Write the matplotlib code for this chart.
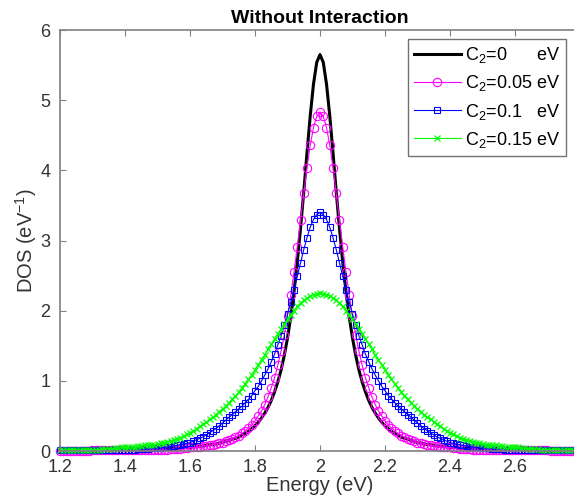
import numpy as np
import matplotlib
matplotlib.use("Agg")
import matplotlib.pyplot as plt
from matplotlib.ticker import FormatStrFormatter

# energy grid (eV), 0.01 eV step
energy = np.linspace(1.2, 2.8, 161)

# DOS values, 1.20 ... 2.80 eV
dos_c0 = [
    0.01, 0.01, 0.01, 0.01, 0.01, 0.01, 0.01, 0.01, 0.01, 0.01,
    0.01, 0.01, 0.01, 0.01, 0.01, 0.02, 0.02, 0.02, 0.02, 0.02,
    0.02, 0.02, 0.02, 0.02, 0.02, 0.02, 0.02, 0.02, 0.02, 0.03,
    0.03, 0.03, 0.03, 0.03, 0.04, 0.04, 0.04, 0.04, 0.05, 0.05,
    0.05, 0.06, 0.06, 0.07, 0.07, 0.08, 0.09, 0.09, 0.10, 0.11,
    0.12, 0.14, 0.15, 0.17, 0.18, 0.20, 0.23, 0.25, 0.28, 0.32,
    0.36, 0.41, 0.47, 0.54, 0.62, 0.72, 0.84, 0.98, 1.15, 1.36,
    1.61, 1.91, 2.27, 2.69, 3.17, 3.69, 4.25, 4.78, 5.23, 5.54,
    5.65,
    5.54, 5.23, 4.78, 4.25, 3.69, 3.17, 2.69, 2.27, 1.91, 1.61,
    1.36, 1.15, 0.98, 0.84, 0.72, 0.62, 0.54, 0.47, 0.41, 0.36,
    0.32, 0.28, 0.25, 0.23, 0.20, 0.18, 0.17, 0.15, 0.14, 0.12,
    0.11, 0.10, 0.09, 0.09, 0.08, 0.07, 0.07, 0.06, 0.06, 0.05,
    0.05, 0.05, 0.04, 0.04, 0.04, 0.04, 0.03, 0.03, 0.03, 0.03,
    0.03, 0.02, 0.02, 0.02, 0.02, 0.02, 0.02, 0.02, 0.02, 0.02,
    0.02, 0.02, 0.02, 0.02, 0.02, 0.01, 0.01, 0.01, 0.01, 0.01,
    0.01, 0.01, 0.01, 0.01, 0.01, 0.01, 0.01, 0.01, 0.01, 0.01,
]

dos_c005 = [
    0.00, 0.00, 0.00, 0.00, 0.00, 0.00, 0.00, 0.00, 0.00, 0.00,
    0.01, 0.01, 0.01, 0.01, 0.01, 0.01, 0.01, 0.01, 0.01, 0.01,
    0.01, 0.01, 0.01, 0.01, 0.01, 0.02, 0.02, 0.02, 0.02, 0.02,
    0.02, 0.02, 0.02, 0.02, 0.03, 0.03, 0.03, 0.03, 0.04, 0.04,
    0.05, 0.05, 0.05, 0.06, 0.07, 0.07, 0.08, 0.09, 0.10, 0.11,
    0.12, 0.14, 0.15, 0.17, 0.20, 0.22, 0.25, 0.29, 0.33, 0.37,
    0.43, 0.50, 0.57, 0.66, 0.77, 0.90, 1.04, 1.22, 1.42, 1.65,
    1.92, 2.22, 2.55, 2.91, 3.29, 3.67, 4.04, 4.36, 4.61, 4.77,
    4.83,
    4.77, 4.61, 4.36, 4.04, 3.67, 3.29, 2.91, 2.55, 2.22, 1.92,
    1.65, 1.42, 1.22, 1.04, 0.90, 0.77, 0.66, 0.57, 0.50, 0.43,
    0.37, 0.33, 0.29, 0.25, 0.22, 0.20, 0.17, 0.15, 0.14, 0.12,
    0.11, 0.10, 0.09, 0.08, 0.07, 0.07, 0.06, 0.05, 0.05, 0.05,
    0.04, 0.04, 0.03, 0.03, 0.03, 0.03, 0.02, 0.02, 0.02, 0.02,
    0.02, 0.02, 0.02, 0.02, 0.02, 0.01, 0.01, 0.01, 0.01, 0.01,
    0.01, 0.01, 0.01, 0.01, 0.01, 0.01, 0.01, 0.01, 0.01, 0.01,
    0.00, 0.00, 0.00, 0.00, 0.00, 0.00, 0.00, 0.00, 0.00, 0.00,
]

dos_c01 = [
    0.01, 0.01, 0.01, 0.01, 0.01, 0.01, 0.01, 0.01, 0.01, 0.01,
    0.01, 0.01, 0.01, 0.01, 0.01, 0.02, 0.02, 0.02, 0.02, 0.02,
    0.02, 0.02, 0.02, 0.02, 0.03, 0.03, 0.03, 0.03, 0.04, 0.04,
    0.04, 0.05, 0.05, 0.06, 0.06, 0.07, 0.08, 0.09, 0.10, 0.11,
    0.12, 0.14, 0.16, 0.18, 0.20, 0.23, 0.26, 0.29, 0.32, 0.36,
    0.40, 0.44, 0.48, 0.52, 0.56, 0.60, 0.64, 0.69, 0.74, 0.79,
    0.86, 0.92, 1.00, 1.08, 1.17, 1.27, 1.38, 1.51, 1.64, 1.79,
    1.95, 2.12, 2.30, 2.49, 2.68, 2.87, 3.04, 3.19, 3.30, 3.37,
    3.40,
    3.37, 3.30, 3.19, 3.04, 2.87, 2.68, 2.49, 2.30, 2.12, 1.95,
    1.79, 1.64, 1.51, 1.38, 1.27, 1.17, 1.08, 1.00, 0.92, 0.86,
    0.79, 0.74, 0.69, 0.64, 0.60, 0.56, 0.52, 0.48, 0.44, 0.40,
    0.36, 0.32, 0.29, 0.26, 0.23, 0.20, 0.18, 0.16, 0.14, 0.12,
    0.11, 0.10, 0.09, 0.08, 0.07, 0.06, 0.06, 0.05, 0.05, 0.04,
    0.04, 0.04, 0.03, 0.03, 0.03, 0.03, 0.02, 0.02, 0.02, 0.02,
    0.02, 0.02, 0.02, 0.02, 0.02, 0.01, 0.01, 0.01, 0.01, 0.01,
    0.01, 0.01, 0.01, 0.01, 0.01, 0.01, 0.01, 0.01, 0.01, 0.01,
]

dos_c015 = [
    0.01, 0.01, 0.01, 0.01, 0.01, 0.01, 0.01, 0.01, 0.02, 0.02,
    0.02, 0.02, 0.02, 0.03, 0.03, 0.03, 0.03, 0.04, 0.04, 0.05,
    0.05, 0.05, 0.06, 0.06, 0.07, 0.07, 0.08, 0.08, 0.09, 0.09,
    0.10, 0.11, 0.12, 0.13, 0.14, 0.16, 0.17, 0.19, 0.21, 0.24,
    0.26, 0.29, 0.32, 0.35, 0.38, 0.41, 0.45, 0.48, 0.52, 0.56,
    0.60, 0.64, 0.69, 0.74, 0.79, 0.84, 0.90, 0.96, 1.03, 1.09,
    1.16, 1.23, 1.30, 1.37, 1.45, 1.52, 1.60, 1.67, 1.74, 1.81,
    1.88, 1.94, 2.00, 2.06, 2.11, 2.15, 2.18, 2.21, 2.23, 2.24,
    2.25,
    2.24, 2.23, 2.21, 2.18, 2.15, 2.11, 2.06, 2.00, 1.94, 1.88,
    1.81, 1.74, 1.67, 1.60, 1.52, 1.45, 1.37, 1.30, 1.23, 1.16,
    1.09, 1.03, 0.96, 0.90, 0.84, 0.79, 0.74, 0.69, 0.64, 0.60,
    0.56, 0.52, 0.48, 0.45, 0.41, 0.38, 0.35, 0.32, 0.29, 0.26,
    0.24, 0.21, 0.19, 0.17, 0.16, 0.14, 0.13, 0.12, 0.11, 0.10,
    0.09, 0.09, 0.08, 0.08, 0.07, 0.07, 0.06, 0.06, 0.05, 0.05,
    0.05, 0.04, 0.04, 0.03, 0.03, 0.03, 0.03, 0.02, 0.02, 0.02,
    0.02, 0.02, 0.01, 0.01, 0.01, 0.01, 0.01, 0.01, 0.01, 0.01,
]

labels = ["C$_2$=0      eV", "C$_2$=0.05 eV", "C$_2$=0.1   eV", "C$_2$=0.15 eV"]
x_ticks = [1.2, 1.4, 1.6, 1.8, 2.0, 2.2, 2.4, 2.6]
y_ticks = [0, 1, 2, 3, 4, 5, 6]

plt.rcParams["font.family"] = "Liberation Sans"
plt.rcParams["mathtext.fontset"] = "custom"
plt.rcParams["mathtext.rm"] = "Liberation Sans"
plt.rcParams["mathtext.it"] = "Liberation Sans:italic"

fig = plt.figure(figsize=(5.74, 5.04), dpi=100)
# axes run past the right edge, like the cropped original
ax = fig.add_axes([60 / 574, 53 / 504, 520 / 574, 421 / 504])

ax.plot(energy, dos_c0, color="black", lw=2.2, label=labels[0], clip_on=False)
ax.plot(energy, dos_c005, color="magenta", lw=0.8, marker="o", ms=6,
        mfc="none", mew=0.8, label=labels[1], clip_on=False)
ax.plot(energy, dos_c01, color="blue", lw=0.8, marker="s", ms=4.5,
        mfc="none", mew=0.8, label=labels[2], clip_on=False)
ax.plot(energy, dos_c015, color="lime", lw=0.8, marker="x", ms=4.5,
        mew=0.9, label=labels[3], clip_on=False)

ax.set_xlim(1.2, 2.8)
ax.set_ylim(0, 6)
ax.set_xticks(x_ticks)
ax.set_yticks(y_ticks)
ax.xaxis.set_major_formatter(FormatStrFormatter("%g"))

for s in ax.spines.values():
    s.set_color("0.5")
    s.set_linewidth(1.2)
ax.tick_params(direction="in", top=True, right=True, length=4,
               color="0.5", labelsize=13, labelcolor="0.2")
ax.tick_params(axis="x", pad=6)
ax.tick_params(axis="y", pad=7)

ax.set_xlabel("Energy (eV)", fontsize=14.5, color="0.2", labelpad=0)
ax.set_ylabel("DOS (eV$^{-1}$)", fontsize=14.5, color="0.2", labelpad=1)
ax.set_title("Without Interaction", fontsize=14, fontweight="bold", pad=5)

leg = ax.legend(loc="upper right", bbox_to_anchor=(566 / 574, 1 - 39 / 504),
                bbox_transform=fig.transFigure, fontsize=13, frameon=True,
                fancybox=False, handlelength=2.6, handletextpad=0.2,
                labelspacing=0.45, borderpad=0.35, borderaxespad=0)
leg.get_frame().set_edgecolor("0.3")
leg.get_frame().set_linewidth(1.0)

fig.savefig("out.png", dpi=100)
